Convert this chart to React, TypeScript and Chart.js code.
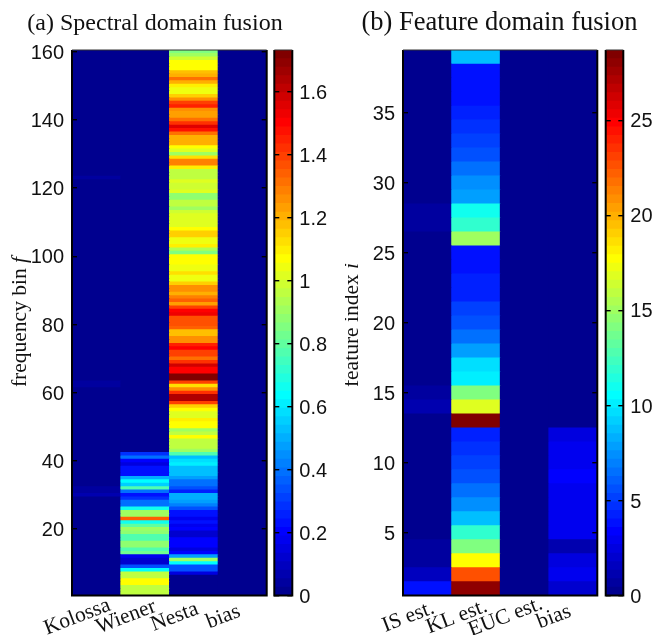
import React, { useEffect, useRef } from "react";
import { Chart, registerables } from "chart.js";

Chart.register(...registerables);

// Rows run from the top of the picture down: the first value is the highest bin.
const spectralLabels = ["Kolossa", "Wiener", "Nesta", "bias"];
const spectralTicks = [20, 40, 60, 80, 100, 120, 140, 160];
const spectralBarTicks = [0, 0.2, 0.4, 0.6, 0.8, 1, 1.2, 1.4, 1.6];
const spectralMax = 1.733;

const kolossa = [
  0,0,0,0,0,0,0,0,0,0,0,0,0,0,0,0,0,0,0,0,
  0,0,0,0,0,0,0,0,0,0,0,0,0,0,0,0,0,0.03,0,0,
  0,0,0,0,0,0,0,0,0,0,0,0,0,0,0,0,0,0,0,0,
  0,0,0,0,0,0,0,0,0,0,0,0,0,0,0,0,0,0,0,0,
  0,0,0,0,0,0,0,0,0,0,0,0,0,0,0,0,0,0.05,0.05,0,
  0,0,0,0,0,0,0,0,0,0,0,0,0,0,0,0,0,0,0,0,
  0,0,0,0,0,0,0,0,0.05,0.04,0.06,0,0,0,0,0,0,0,0,0,
  0,0,0,0,0,0,0,0,0,0,0,0,0,0,0,0,0,0,0,0,
];
const wiener = [
  0,0,0,0,0,0,0,0,0,0,0,0,0,0,0,0,0,0,0,0,
  0,0,0,0,0,0,0,0,0,0,0,0,0,0,0,0,0,0,0,0,
  0,0,0,0,0,0,0,0,0,0,0,0,0,0,0,0,0,0,0,0,
  0,0,0,0,0,0,0,0,0,0,0,0,0,0,0,0,0,0,0,0,
  0,0,0,0,0,0,0,0,0,0,0,0,0,0,0,0,0,0,0,0,
  0,0,0,0,0,0,0,0,0,0,0,0,0,0,0,0,0,0,
  0.29,0.38,0.21,0.14,0.22,0.22,0.22,0.5,0.64,0.55,0.78,0.38,0.23,0.29,0.4,0.4,0.66,0.92,0.92,1.33,
  0.66,0.81,0.9,0.87,0.76,0.76,0.87,0.87,0.76,0.83,0.17,0.12,0.12,0.35,0.64,0.95,0.95,1.07,1.07,0.95,0.95,0.95,
];
const nesta = [
  0.85,0.9,0.99,1.08,1.08,1.08,1.18,1.21,1.32,1.21,
  1.09,1.04,1.04,1.14,1.25,1.39,1.46,1.27,1.23,1.23,
  1.3,1.42,1.56,1.47,1.32,1.2,1.2,1.2,1.07,1.01,
  0.9,1.13,1.28,1.28,1.09,0.97,0.97,0.97,1.02,0.99,
  0.99,1.01,0.87,0.87,0.95,0.95,0.92,0.99,1.01,1.01,
  1.01,1.01,1.07,1.16,1.16,1.04,1.04,1.09,0.94,0.85,
  1.06,1.06,1.06,1.04,1.04,1.13,1.04,1.04,1.16,1.27,
  1.27,1.21,1.28,1.33,1.23,1.39,1.49,1.54,1.37,1.37,
  1.37,1.33,1.18,1.18,1.25,1.25,1.44,1.49,1.39,1.39,
  1.32,1.42,1.58,1.49,1.51,1.73,1.73,1.39,1.13,1.25,
  1.42,1.65,1.65,1.39,1.14,1.06,1.01,1.01,1.11,1.06,
  1.06,0.92,0.95,1.07,0.97,0.97,0.97,0.92,0.76,0.52,
  0.59,0.62,0.54,0.54,0.54,0.47,0.38,0.38,0.33,0.26,
  0.5,0.5,0.47,0.42,0.35,0.24,0.24,0.17,0.23,0.17,
  0.21,0.12,0.12,0.21,0.21,0.21,0.16,0.21,0.47,0.92,
  0.64,0.35,0.35,0.16,0,0,0,0,0,0,
];
const spectralBias = [
  0,0,0,0,0,0,0,0,0,0,0,0,0,0,0,0,0,0,0,0,
  0,0,0,0,0,0,0,0,0,0,0,0,0,0,0,0,0,0,0,0,
  0,0,0,0,0,0,0,0,0,0,0,0,0,0,0,0,0,0,0,0,
  0,0,0,0,0,0,0,0,0,0,0,0,0,0,0,0,0,0,0,0,
  0,0,0,0,0,0,0,0,0,0,0,0,0,0,0,0,0,0,0,0,
  0,0,0,0,0,0,0,0,0,0,0,0,0,0,0,0,0,0,0,0,
  0,0,0,0,0,0,0,0,0,0,0,0,0,0,0,0,0,0,0,0,
  0,0,0,0,0,0,0,0,0,0,0,0,0,0,0,0,0,0,0,0,
];

const featureLabels = ["IS est.", "KL est.", "EUC est.", "bias"];
const featureTicks = [5, 10, 15, 20, 25, 30, 35];
const featureBarTicks = [0, 5, 10, 15, 20, 25];
const featureMax = 28.7;

const isEst = [0,0,0,0,0,0,0,0,0,0,0,0.6,0.6,0,0,0,0,0,0,0,0,0,0,0,0.5,1,0,0,0,0,0,0,0,0,0,0.5,0.5,1.4,3.6];
const klEst = [8.9,3.6,3.6,4,4.3,4.7,5,5.5,6.6,7.5,7.9,10.8,11.8,14.8,3.6,3.9,4.3,4.3,5.2,5.5,6.3,7.7,9.8,10.3,14.1,16.6,28.7,4.3,4.7,5,5.7,6.5,7.6,8.9,11.9,14.2,17.5,22.7,28.1];
const eucEst = [0,0,0,0,0,0,0,0,0,0,0,0,0,0,0,0,0,0,0,0,0,0,0,0,0,0,0,0,0,0,0,0,0,0,0,0,0,0,0];
const featureBias = [0,0,0,0,0,0,0,0,0,0,0,0,0,0,0,0,0,0,0,0,0,0,0,0,0,0,0,2.5,2.9,2.9,3.4,3,2.9,2.9,2.9,0.9,2.5,3,2.1];

const SANS = "'Liberation Sans', Arial, sans-serif";
const SERIF = "'Liberation Serif', 'Times New Roman', serif";
const INK = "#111";
const TOP = 50;
const BOTTOM = 595.6;
const H = 635;

const clamp01 = (v: number) => Math.max(0, Math.min(1, v));
function jet(i: number) {
  const x = (i + 1) / 64;
  const r = clamp01(Math.min(4 * x - 1.5, -4 * x + 4.5));
  const g = clamp01(Math.min(4 * x - 0.5, -4 * x + 3.5));
  const b = clamp01(Math.min(4 * x + 0.5, -4 * x + 2.5));
  return `rgb(${Math.round(r * 255)},${Math.round(g * 255)},${Math.round(b * 255)})`;
}
const colorOf = (v: number, max: number) => jet(Math.max(0, Math.min(63, Math.floor((v / max) * 64))));

const framePlugin = {
  id: "frame",
  beforeDatasetsDraw(chart: any, _a: any, o: any) {
    const { ctx, chartArea: c } = chart;
    ctx.save();
    ctx.fillStyle = o.fill;
    ctx.fillRect(c.left, c.top, c.right - c.left, c.bottom - c.top);
    ctx.restore();
  },
  afterDraw(chart: any) {
    const { ctx, chartArea: c } = chart;
    ctx.save();
    ctx.strokeStyle = "#000";
    ctx.lineWidth = 2;
    ctx.beginPath();
    ctx.moveTo(c.left, c.top);
    ctx.lineTo(c.left, c.bottom);
    ctx.lineTo(c.right, c.bottom);
    ctx.lineTo(c.right, c.top);
    ctx.stroke();
    ctx.lineWidth = 1;
    ctx.strokeStyle = "#333";
    ctx.beginPath();
    ctx.moveTo(c.left, c.top);
    ctx.lineTo(c.right, c.top);
    ctx.stroke();
    ctx.restore();
  },
};

const labelsPlugin = {
  id: "slantedText",
  afterDraw(chart: any, _a: any, o: any) {
    if (!o.yTitle) return;
    const { ctx, scales } = chart;
    ctx.save();
    ctx.fillStyle = INK;
    ctx.font = `21.5px ${SERIF}`;
    ctx.textAlign = "center";
    ctx.textBaseline = "middle";
    scales.x.getLabels().forEach((label: string, i: number) => {
      ctx.save();
      ctx.translate(scales.x.getPixelForTick(i) - 19, 617);
      ctx.rotate((-21 * Math.PI) / 180);
      ctx.fillText(label, 0, 0);
      ctx.restore();
    });
    // axis title with an italic last letter
    ctx.translate(o.yTitleX, o.yTitleY);
    ctx.rotate(-Math.PI / 2);
    ctx.textAlign = "left";
    ctx.textBaseline = "alphabetic";
    ctx.font = `21.5px ${SERIF}`;
    const w1 = ctx.measureText(o.yTitle).width;
    ctx.font = `italic 21.5px ${SERIF}`;
    const w2 = ctx.measureText(o.yTitleVar).width;
    const start = -(w1 + w2) / 2;
    ctx.font = `21.5px ${SERIF}`;
    ctx.fillText(o.yTitle, start, 0);
    ctx.font = `italic 21.5px ${SERIF}`;
    ctx.fillText(o.yTitleVar, start + w1, 0);
    ctx.restore();
  },
};

function tickGrid() {
  return { display: true, drawOnChartArea: false, drawTicks: true, tickLength: -5, color: "#000", lineWidth: 1.4, z: 1 };
}

function fixedTicks(values: number[]) {
  return (scale: any) => {
    scale.ticks = values.map((value) => ({ value }));
  };
}

function heatConfig(p: {
  labels: string[]; series: number[][]; max: number; ticks: number[];
  title: string; titleSize: number; yTitle: string; yTitleVar: string; yTitleX: number; yTitleY: number;
  canvasWidth: number; left: number; right: number;
}) {
  const n = p.series[0].length;
  const datasets: any[] = [];
  for (let f = 1; f <= n; f++) {
    const i = n - f;
    datasets.push({
      data: p.series.map(() => [f - 0.9, f + 0.5]),
      backgroundColor: p.series.map((s) => colorOf(s[i], p.max)),
      borderWidth: 0,
      barPercentage: 1,
      categoryPercentage: 1,
      grouped: false,
    });
  }
  const titleLine = p.titleSize * 1.2;
  const titleTop = 23.5 - titleLine / 2;
  return {
    type: "bar",
    data: { labels: p.labels, datasets },
    plugins: [framePlugin, labelsPlugin],
    options: {
      responsive: false,
      animation: false,
      events: [],
      layout: { padding: { left: 0, right: 0, top: 0, bottom: H - BOTTOM } },
      plugins: {
        legend: { display: false },
        tooltip: { enabled: false },
        title: {
          display: true,
          text: p.title,
          color: INK,
          font: { family: SERIF, size: p.titleSize, weight: "normal", lineHeight: 1.2 },
          padding: { top: titleTop, bottom: TOP - titleTop - titleLine },
        },
        frame: { fill: jet(0) },
        slantedText: { yTitle: p.yTitle, yTitleVar: p.yTitleVar, yTitleX: p.yTitleX, yTitleY: p.yTitleY },
      },
      scales: {
        x: {
          type: "category",
          ticks: { display: false },
          grid: { display: false, drawTicks: false },
          border: { display: false },
          afterFit: (s: any) => { s.height = 0; },
        },
        y: {
          type: "linear",
          position: "left",
          min: 0.5,
          max: n + 0.5,
          afterBuildTicks: fixedTicks(p.ticks),
          ticks: { autoSkip: false, color: INK, padding: 13, labelOffset: 1.5, font: { family: SANS, size: 20 }, callback: (v: number) => String(v) },
          grid: tickGrid(),
          border: { display: false },
          afterFit: (s: any) => { s.width = p.left; },
        },
        yRight: {
          type: "linear",
          position: "right",
          min: 0.5,
          max: n + 0.5,
          afterBuildTicks: fixedTicks(p.ticks),
          ticks: { display: false },
          grid: tickGrid(),
          border: { display: false },
          afterFit: (s: any) => { s.width = p.canvasWidth - p.right; },
        },
      },
    },
  };
}

function barConfig(p: { max: number; ticks: number[]; left: number; right: number }) {
  const datasets: any[] = [];
  for (let i = 63; i >= 0; i--) {
    const lo = (i / 64) * p.max;
    const hi = ((i + 1) / 64) * p.max;
    datasets.unshift({
      data: [[lo - p.max / 128, hi]],
      backgroundColor: jet(i),
      borderWidth: 0,
      barPercentage: 1,
      categoryPercentage: 1,
      grouped: false,
    });
  }
  return {
    type: "bar",
    data: { labels: ["scale"], datasets },
    plugins: [framePlugin],
    options: {
      responsive: false,
      animation: false,
      events: [],
      layout: { padding: { left: p.left, right: 0, top: TOP, bottom: H - BOTTOM } },
      plugins: {
        legend: { display: false },
        tooltip: { enabled: false },
        title: { display: false },
        frame: { fill: jet(0) },
      },
      scales: {
        x: {
          type: "category",
          ticks: { display: false },
          grid: { display: false, drawTicks: false },
          border: { display: false },
          afterFit: (s: any) => { s.height = 0; },
        },
        y: {
          type: "linear",
          position: "right",
          min: 0,
          max: p.max,
          afterBuildTicks: fixedTicks(p.ticks),
          ticks: { autoSkip: false, color: INK, padding: 12, labelOffset: 1.5, font: { family: SANS, size: 20 }, callback: (v: number) => String(v) },
          grid: tickGrid(),
          border: { display: false },
          afterFit: (s: any) => { s.width = p.right; },
        },
        yLeft: {
          type: "linear",
          position: "left",
          min: 0,
          max: p.max,
          afterBuildTicks: fixedTicks(p.ticks),
          ticks: { display: false },
          grid: tickGrid(),
          border: { display: false },
          afterFit: (s: any) => { s.width = 0; },
        },
      },
    },
  };
}

const canvasStyle = (left: number): React.CSSProperties => ({ position: "absolute", left, top: 0 });

export default function App() {
  const a = useRef<HTMLCanvasElement>(null);
  const b = useRef<HTMLCanvasElement>(null);
  const c = useRef<HTMLCanvasElement>(null);
  const d = useRef<HTMLCanvasElement>(null);

  useEffect(() => {
    const charts = [
      new Chart(a.current!, heatConfig({
        labels: spectralLabels, series: [kolossa, wiener, nesta, spectralBias], max: spectralMax, ticks: spectralTicks,
        title: "(a) Spectral domain fusion", titleSize: 24, yTitle: "frequency bin ", yTitleVar: "f", yTitleX: 26, yTitleY: 322,
        canvasWidth: 310, left: 72, right: 266.7,
      }) as any),
      new Chart(b.current!, barConfig({ max: spectralMax, ticks: spectralBarTicks, left: 4.3, right: 61.7 }) as any),
      new Chart(c.current!, heatConfig({
        labels: featureLabels, series: [isEst, klEst, eucEst, featureBias], max: featureMax, ticks: featureTicks,
        title: "(b) Feature domain fusion", titleSize: 26.5, yTitle: "feature index ", yTitleVar: "i", yTitleX: 13, yTitleY: 325,
        canvasWidth: 309, left: 58, right: 252.3,
      }) as any),
      new Chart(d.current!, barConfig({ max: featureMax, ticks: featureBarTicks, left: 4.7, right: 30.7 }) as any),
    ];
    return () => charts.forEach((ch) => ch.destroy());
  }, []);

  return (
    <div style={{ position: "absolute", left: 0, top: 0, width: 654, height: H, background: "#fff", overflow: "hidden" }}>
      <canvas ref={a} width={310} height={H} style={canvasStyle(0)} />
      <canvas ref={b} width={84} height={H} style={canvasStyle(270)} />
      <canvas ref={c} width={309} height={H} style={canvasStyle(345)} />
      <canvas ref={d} width={53} height={H} style={canvasStyle(601)} />
    </div>
  );
}
